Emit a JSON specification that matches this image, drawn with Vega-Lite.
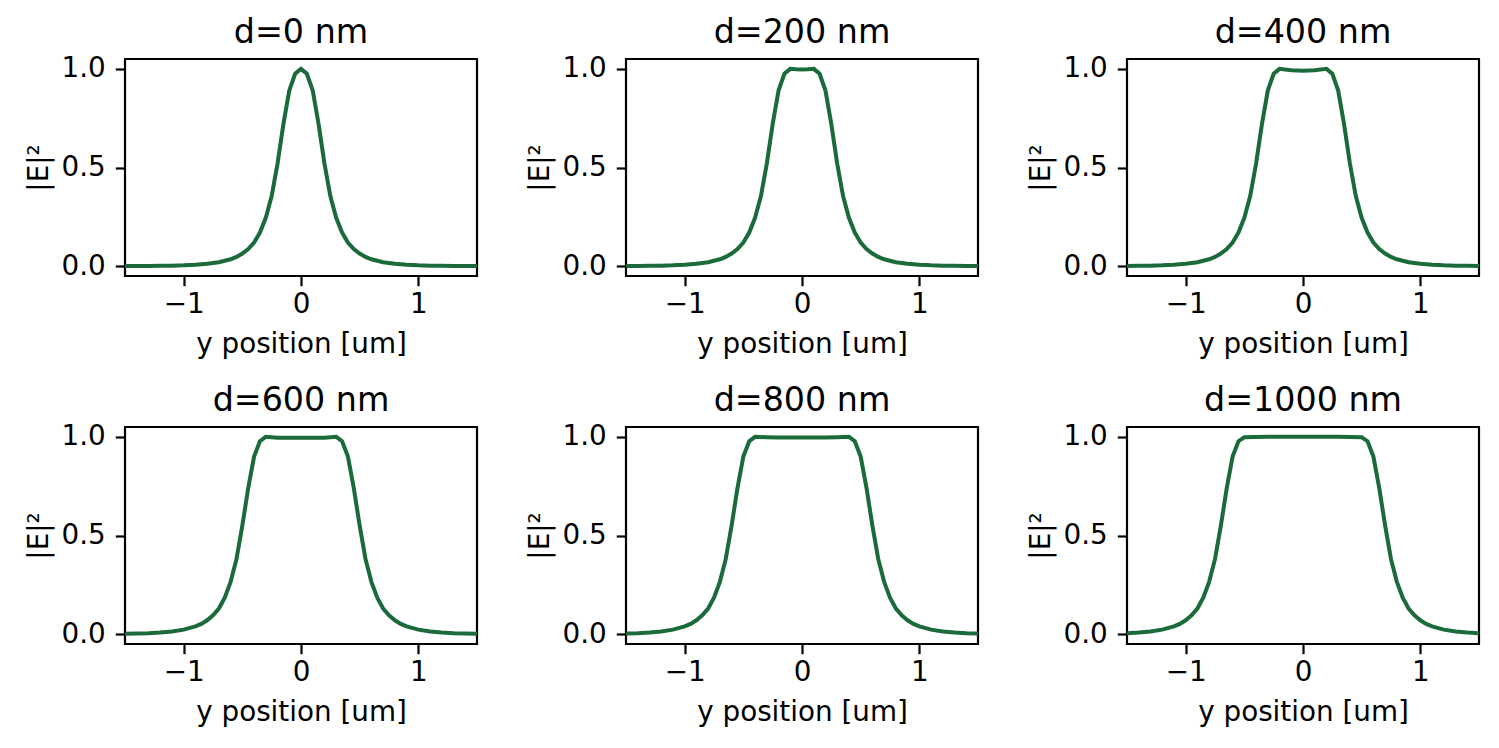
{
"$schema": "https://vega.github.io/schema/vega-lite/v6.json",
"background": "white",
"padding": {"left": 23, "top": 14, "right": 5, "bottom": 5},
"config": {
 "font": "DejaVu Sans",
 "view": {"stroke": "black", "strokeWidth": 2.2},
 "axis": {"domain": false, "grid": false, "tickColor": "black", "tickWidth": 2.2, "tickSize": 9.7, "labelColor": "black", "titleColor": "black", "labelFont": "DejaVu Sans", "titleFont": "DejaVu Sans", "labelFontSize": 27.8, "titleFontSize": 27.8, "titleFontWeight": "normal"},
 "header": {"labelFont": "DejaVu Sans", "labelFontSize": 33.3, "labelColor": "black"}
},
"data": {"values": [
{"p":"d=0 nm","x":-1.5,"y":0.0003},{"p":"d=0 nm","x":-1.4,"y":0.0005},{"p":"d=0 nm","x":-1.3,"y":0.0008},{"p":"d=0 nm","x":-1.2,"y":0.0014},{"p":"d=0 nm","x":-1.1,"y":0.0024},{"p":"d=0 nm","x":-1.0,"y":0.004},{"p":"d=0 nm","x":-0.9,"y":0.007},{"p":"d=0 nm","x":-0.8,"y":0.012},{"p":"d=0 nm","x":-0.7,"y":0.02},{"p":"d=0 nm","x":-0.6,"y":0.035},{"p":"d=0 nm","x":-0.55,"y":0.047},{"p":"d=0 nm","x":-0.5,"y":0.064},{"p":"d=0 nm","x":-0.45,"y":0.087},{"p":"d=0 nm","x":-0.4,"y":0.12},{"p":"d=0 nm","x":-0.35,"y":0.17},{"p":"d=0 nm","x":-0.3,"y":0.245},{"p":"d=0 nm","x":-0.25,"y":0.355},{"p":"d=0 nm","x":-0.2,"y":0.52},{"p":"d=0 nm","x":-0.15,"y":0.72},{"p":"d=0 nm","x":-0.1,"y":0.89},{"p":"d=0 nm","x":-0.05,"y":0.975},{"p":"d=0 nm","x":0,"y":1.0},
{"p":"d=0 nm","x":0.05,"y":0.975},{"p":"d=0 nm","x":0.1,"y":0.89},{"p":"d=0 nm","x":0.15,"y":0.72},{"p":"d=0 nm","x":0.2,"y":0.52},{"p":"d=0 nm","x":0.25,"y":0.355},{"p":"d=0 nm","x":0.3,"y":0.245},{"p":"d=0 nm","x":0.35,"y":0.17},{"p":"d=0 nm","x":0.4,"y":0.12},{"p":"d=0 nm","x":0.45,"y":0.087},{"p":"d=0 nm","x":0.5,"y":0.064},{"p":"d=0 nm","x":0.55,"y":0.047},{"p":"d=0 nm","x":0.6,"y":0.035},{"p":"d=0 nm","x":0.7,"y":0.02},{"p":"d=0 nm","x":0.8,"y":0.012},{"p":"d=0 nm","x":0.9,"y":0.007},{"p":"d=0 nm","x":1.0,"y":0.004},{"p":"d=0 nm","x":1.1,"y":0.0024},{"p":"d=0 nm","x":1.2,"y":0.0014},{"p":"d=0 nm","x":1.3,"y":0.0008},{"p":"d=0 nm","x":1.4,"y":0.0005},{"p":"d=0 nm","x":1.5,"y":0.0003},

{"p":"d=200 nm","x":-1.5,"y":0.0005},{"p":"d=200 nm","x":-1.4,"y":0.0008},{"p":"d=200 nm","x":-1.3,"y":0.0014},{"p":"d=200 nm","x":-1.2,"y":0.0024},{"p":"d=200 nm","x":-1.1,"y":0.004},{"p":"d=200 nm","x":-1.0,"y":0.007},{"p":"d=200 nm","x":-0.9,"y":0.012},{"p":"d=200 nm","x":-0.8,"y":0.02},{"p":"d=200 nm","x":-0.7,"y":0.035},{"p":"d=200 nm","x":-0.65,"y":0.047},{"p":"d=200 nm","x":-0.6,"y":0.064},{"p":"d=200 nm","x":-0.55,"y":0.087},{"p":"d=200 nm","x":-0.5,"y":0.12},{"p":"d=200 nm","x":-0.45,"y":0.17},{"p":"d=200 nm","x":-0.4,"y":0.245},{"p":"d=200 nm","x":-0.35,"y":0.355},{"p":"d=200 nm","x":-0.3,"y":0.52},{"p":"d=200 nm","x":-0.25,"y":0.72},{"p":"d=200 nm","x":-0.2,"y":0.89},{"p":"d=200 nm","x":-0.15,"y":0.975},{"p":"d=200 nm","x":-0.1,"y":1.0},{"p":"d=200 nm","x":-0.05,"y":0.998},{"p":"d=200 nm","x":0,"y":0.997},
{"p":"d=200 nm","x":0.05,"y":0.998},{"p":"d=200 nm","x":0.1,"y":1.0},{"p":"d=200 nm","x":0.15,"y":0.975},{"p":"d=200 nm","x":0.2,"y":0.89},{"p":"d=200 nm","x":0.25,"y":0.72},{"p":"d=200 nm","x":0.3,"y":0.52},{"p":"d=200 nm","x":0.35,"y":0.355},{"p":"d=200 nm","x":0.4,"y":0.245},{"p":"d=200 nm","x":0.45,"y":0.17},{"p":"d=200 nm","x":0.5,"y":0.12},{"p":"d=200 nm","x":0.55,"y":0.087},{"p":"d=200 nm","x":0.6,"y":0.064},{"p":"d=200 nm","x":0.65,"y":0.047},{"p":"d=200 nm","x":0.7,"y":0.035},{"p":"d=200 nm","x":0.8,"y":0.02},{"p":"d=200 nm","x":0.9,"y":0.012},{"p":"d=200 nm","x":1.0,"y":0.007},{"p":"d=200 nm","x":1.1,"y":0.004},{"p":"d=200 nm","x":1.2,"y":0.0024},{"p":"d=200 nm","x":1.3,"y":0.0014},{"p":"d=200 nm","x":1.4,"y":0.0008},{"p":"d=200 nm","x":1.5,"y":0.0005},

{"p":"d=400 nm","x":-1.5,"y":0.0008},{"p":"d=400 nm","x":-1.4,"y":0.0014},{"p":"d=400 nm","x":-1.3,"y":0.0024},{"p":"d=400 nm","x":-1.2,"y":0.004},{"p":"d=400 nm","x":-1.1,"y":0.007},{"p":"d=400 nm","x":-1.0,"y":0.012},{"p":"d=400 nm","x":-0.9,"y":0.02},{"p":"d=400 nm","x":-0.8,"y":0.035},{"p":"d=400 nm","x":-0.75,"y":0.047},{"p":"d=400 nm","x":-0.7,"y":0.064},{"p":"d=400 nm","x":-0.65,"y":0.087},{"p":"d=400 nm","x":-0.6,"y":0.12},{"p":"d=400 nm","x":-0.55,"y":0.17},{"p":"d=400 nm","x":-0.5,"y":0.245},{"p":"d=400 nm","x":-0.45,"y":0.355},{"p":"d=400 nm","x":-0.4,"y":0.52},{"p":"d=400 nm","x":-0.35,"y":0.72},{"p":"d=400 nm","x":-0.3,"y":0.89},{"p":"d=400 nm","x":-0.25,"y":0.975},{"p":"d=400 nm","x":-0.2,"y":1.0},{"p":"d=400 nm","x":-0.1,"y":0.993},{"p":"d=400 nm","x":0,"y":0.99},
{"p":"d=400 nm","x":0.1,"y":0.993},{"p":"d=400 nm","x":0.2,"y":1.0},{"p":"d=400 nm","x":0.25,"y":0.975},{"p":"d=400 nm","x":0.3,"y":0.89},{"p":"d=400 nm","x":0.35,"y":0.72},{"p":"d=400 nm","x":0.4,"y":0.52},{"p":"d=400 nm","x":0.45,"y":0.355},{"p":"d=400 nm","x":0.5,"y":0.245},{"p":"d=400 nm","x":0.55,"y":0.17},{"p":"d=400 nm","x":0.6,"y":0.12},{"p":"d=400 nm","x":0.65,"y":0.087},{"p":"d=400 nm","x":0.7,"y":0.064},{"p":"d=400 nm","x":0.75,"y":0.047},{"p":"d=400 nm","x":0.8,"y":0.035},{"p":"d=400 nm","x":0.9,"y":0.02},{"p":"d=400 nm","x":1.0,"y":0.012},{"p":"d=400 nm","x":1.1,"y":0.007},{"p":"d=400 nm","x":1.2,"y":0.004},{"p":"d=400 nm","x":1.3,"y":0.0024},{"p":"d=400 nm","x":1.4,"y":0.0014},{"p":"d=400 nm","x":1.5,"y":0.0008},

{"p":"d=600 nm","x":-1.5,"y":0.0016},{"p":"d=600 nm","x":-1.4,"y":0.0027},{"p":"d=600 nm","x":-1.3,"y":0.0045},{"p":"d=600 nm","x":-1.2,"y":0.008},{"p":"d=600 nm","x":-1.1,"y":0.013},{"p":"d=600 nm","x":-1.0,"y":0.023},{"p":"d=600 nm","x":-0.9,"y":0.039},{"p":"d=600 nm","x":-0.85,"y":0.052},{"p":"d=600 nm","x":-0.8,"y":0.07},{"p":"d=600 nm","x":-0.75,"y":0.095},{"p":"d=600 nm","x":-0.7,"y":0.13},{"p":"d=600 nm","x":-0.65,"y":0.185},{"p":"d=600 nm","x":-0.6,"y":0.265},{"p":"d=600 nm","x":-0.55,"y":0.38},{"p":"d=600 nm","x":-0.5,"y":0.55},{"p":"d=600 nm","x":-0.45,"y":0.74},{"p":"d=600 nm","x":-0.4,"y":0.9},{"p":"d=600 nm","x":-0.35,"y":0.978},{"p":"d=600 nm","x":-0.3,"y":1.0},{"p":"d=600 nm","x":-0.2,"y":0.996},{"p":"d=600 nm","x":-0.1,"y":0.995},{"p":"d=600 nm","x":0,"y":0.995},
{"p":"d=600 nm","x":0.1,"y":0.995},{"p":"d=600 nm","x":0.2,"y":0.996},{"p":"d=600 nm","x":0.3,"y":1.0},{"p":"d=600 nm","x":0.35,"y":0.978},{"p":"d=600 nm","x":0.4,"y":0.9},{"p":"d=600 nm","x":0.45,"y":0.74},{"p":"d=600 nm","x":0.5,"y":0.55},{"p":"d=600 nm","x":0.55,"y":0.38},{"p":"d=600 nm","x":0.6,"y":0.265},{"p":"d=600 nm","x":0.65,"y":0.185},{"p":"d=600 nm","x":0.7,"y":0.13},{"p":"d=600 nm","x":0.75,"y":0.095},{"p":"d=600 nm","x":0.8,"y":0.07},{"p":"d=600 nm","x":0.85,"y":0.052},{"p":"d=600 nm","x":0.9,"y":0.039},{"p":"d=600 nm","x":1.0,"y":0.023},{"p":"d=600 nm","x":1.1,"y":0.013},{"p":"d=600 nm","x":1.2,"y":0.008},{"p":"d=600 nm","x":1.3,"y":0.0045},{"p":"d=600 nm","x":1.4,"y":0.0027},{"p":"d=600 nm","x":1.5,"y":0.0016},

{"p":"d=800 nm","x":-1.5,"y":0.0027},{"p":"d=800 nm","x":-1.4,"y":0.0045},{"p":"d=800 nm","x":-1.3,"y":0.008},{"p":"d=800 nm","x":-1.2,"y":0.013},{"p":"d=800 nm","x":-1.1,"y":0.023},{"p":"d=800 nm","x":-1.0,"y":0.039},{"p":"d=800 nm","x":-0.95,"y":0.052},{"p":"d=800 nm","x":-0.9,"y":0.07},{"p":"d=800 nm","x":-0.85,"y":0.095},{"p":"d=800 nm","x":-0.8,"y":0.13},{"p":"d=800 nm","x":-0.75,"y":0.185},{"p":"d=800 nm","x":-0.7,"y":0.265},{"p":"d=800 nm","x":-0.65,"y":0.38},{"p":"d=800 nm","x":-0.6,"y":0.55},{"p":"d=800 nm","x":-0.55,"y":0.74},{"p":"d=800 nm","x":-0.5,"y":0.9},{"p":"d=800 nm","x":-0.45,"y":0.978},{"p":"d=800 nm","x":-0.4,"y":1.0},{"p":"d=800 nm","x":-0.3,"y":0.998},{"p":"d=800 nm","x":-0.2,"y":0.997},{"p":"d=800 nm","x":-0.1,"y":0.997},{"p":"d=800 nm","x":0,"y":0.997},
{"p":"d=800 nm","x":0.1,"y":0.997},{"p":"d=800 nm","x":0.2,"y":0.997},{"p":"d=800 nm","x":0.3,"y":0.998},{"p":"d=800 nm","x":0.4,"y":1.0},{"p":"d=800 nm","x":0.45,"y":0.978},{"p":"d=800 nm","x":0.5,"y":0.9},{"p":"d=800 nm","x":0.55,"y":0.74},{"p":"d=800 nm","x":0.6,"y":0.55},{"p":"d=800 nm","x":0.65,"y":0.38},{"p":"d=800 nm","x":0.7,"y":0.265},{"p":"d=800 nm","x":0.75,"y":0.185},{"p":"d=800 nm","x":0.8,"y":0.13},{"p":"d=800 nm","x":0.85,"y":0.095},{"p":"d=800 nm","x":0.9,"y":0.07},{"p":"d=800 nm","x":0.95,"y":0.052},{"p":"d=800 nm","x":1.0,"y":0.039},{"p":"d=800 nm","x":1.1,"y":0.023},{"p":"d=800 nm","x":1.2,"y":0.013},{"p":"d=800 nm","x":1.3,"y":0.008},{"p":"d=800 nm","x":1.4,"y":0.0045},{"p":"d=800 nm","x":1.5,"y":0.0027},

{"p":"d=1000 nm","x":-1.5,"y":0.0045},{"p":"d=1000 nm","x":-1.4,"y":0.008},{"p":"d=1000 nm","x":-1.3,"y":0.013},{"p":"d=1000 nm","x":-1.2,"y":0.023},{"p":"d=1000 nm","x":-1.1,"y":0.039},{"p":"d=1000 nm","x":-1.05,"y":0.052},{"p":"d=1000 nm","x":-1.0,"y":0.07},{"p":"d=1000 nm","x":-0.95,"y":0.095},{"p":"d=1000 nm","x":-0.9,"y":0.13},{"p":"d=1000 nm","x":-0.85,"y":0.185},{"p":"d=1000 nm","x":-0.8,"y":0.265},{"p":"d=1000 nm","x":-0.75,"y":0.38},{"p":"d=1000 nm","x":-0.7,"y":0.55},{"p":"d=1000 nm","x":-0.65,"y":0.74},{"p":"d=1000 nm","x":-0.6,"y":0.9},{"p":"d=1000 nm","x":-0.55,"y":0.978},{"p":"d=1000 nm","x":-0.5,"y":0.998},{"p":"d=1000 nm","x":-0.4,"y":0.999},{"p":"d=1000 nm","x":-0.3,"y":1.0},{"p":"d=1000 nm","x":-0.2,"y":1.0},{"p":"d=1000 nm","x":-0.1,"y":1.0},{"p":"d=1000 nm","x":0,"y":1.0},
{"p":"d=1000 nm","x":0.1,"y":1.0},{"p":"d=1000 nm","x":0.2,"y":1.0},{"p":"d=1000 nm","x":0.3,"y":1.0},{"p":"d=1000 nm","x":0.4,"y":0.999},{"p":"d=1000 nm","x":0.5,"y":0.998},{"p":"d=1000 nm","x":0.55,"y":0.978},{"p":"d=1000 nm","x":0.6,"y":0.9},{"p":"d=1000 nm","x":0.65,"y":0.74},{"p":"d=1000 nm","x":0.7,"y":0.55},{"p":"d=1000 nm","x":0.75,"y":0.38},{"p":"d=1000 nm","x":0.8,"y":0.265},{"p":"d=1000 nm","x":0.85,"y":0.185},{"p":"d=1000 nm","x":0.9,"y":0.13},{"p":"d=1000 nm","x":0.95,"y":0.095},{"p":"d=1000 nm","x":1.0,"y":0.07},{"p":"d=1000 nm","x":1.05,"y":0.052},{"p":"d=1000 nm","x":1.1,"y":0.039},{"p":"d=1000 nm","x":1.2,"y":0.023},{"p":"d=1000 nm","x":1.3,"y":0.013},{"p":"d=1000 nm","x":1.4,"y":0.008},{"p":"d=1000 nm","x":1.5,"y":0.0045}
]},
"facet": {"field": "p", "type": "nominal", "title": null, "sort": ["d=0 nm", "d=200 nm", "d=400 nm", "d=600 nm", "d=800 nm", "d=1000 nm"], "header": {"labelPadding": 5}},
"columns": 3,
"bounds": "flush",
"spacing": {"row": 151, "column": 149},
"resolve": {"axis": {"x": "independent", "y": "independent"}},
"spec": {
 "width": 352,
 "height": 217,
 "mark": {"type": "line", "color": "#1a6a3a", "strokeWidth": 4, "clip": true},
 "encoding": {
  "x": {"field": "x", "type": "quantitative", "scale": {"domain": [-1.5, 1.5], "nice": false, "zero": false}, "axis": {"values": [-1, 0, 1], "format": "d", "title": "y position [um]", "labelPadding": 5, "titlePadding": 12}},
  "y": {"field": "y", "type": "quantitative", "scale": {"domain": [-0.05, 1.05], "nice": false, "zero": false}, "axis": {"values": [0, 0.5, 1], "format": ".1f", "title": "|E|²", "labelPadding": 10, "titlePadding": 8}}
 }
}
}
